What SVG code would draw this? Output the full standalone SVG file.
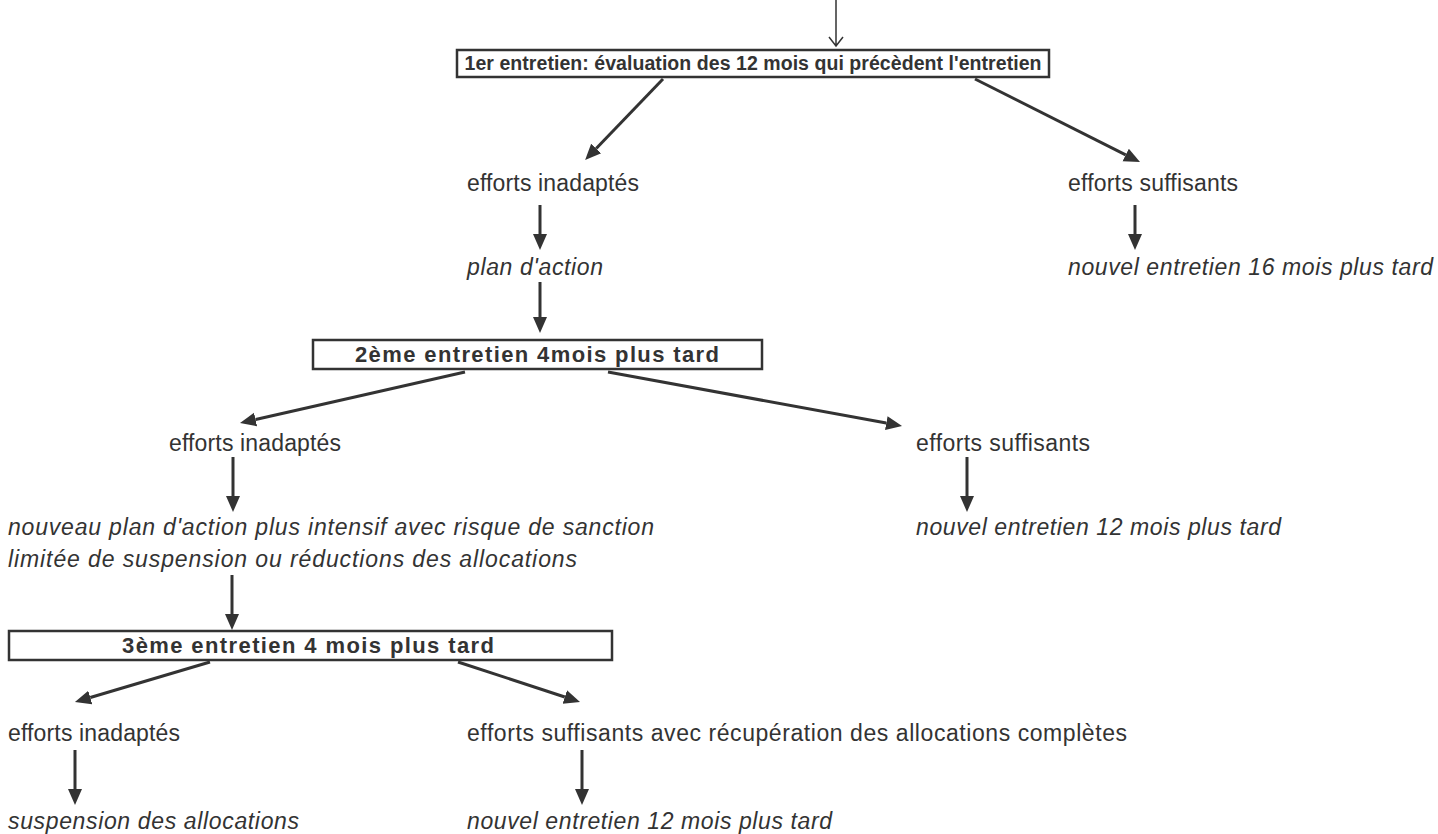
<svg xmlns="http://www.w3.org/2000/svg" width="1438" height="834" viewBox="0 0 1438 834">
<style>
.bx{fill:#fff;stroke:#333;stroke-width:2.5}
.bt{font-family:"Liberation Sans",Arial,sans-serif;font-weight:bold;font-size:22px;fill:#333;text-anchor:middle}
.b1{font-size:19.5px}
.t{font-family:"Liberation Sans",Arial,sans-serif;font-size:23px;fill:#333}
.i{font-style:italic}
.c line{stroke:#333;stroke-width:3;marker-end:url(#ah)}
</style>
<defs>
<marker id="ah" markerUnits="userSpaceOnUse" viewBox="0 -8 16 16" refX="0" refY="0" markerWidth="16" markerHeight="16" orient="auto"><path d="M0,-7 L16,0 L0,7 z" fill="#333"/></marker>
</defs>
<g id="connectors" class="c">
<line x1="663" y1="79" x2="596.2" y2="148.5"/>
<line x1="975" y1="79" x2="1125.7" y2="154.9"/>
<line x1="540" y1="205" x2="540" y2="234"/>
<line x1="1135" y1="205" x2="1135" y2="234"/>
<line x1="540" y1="282" x2="540" y2="317"/>
<line x1="465" y1="372" x2="255.6" y2="419.5"/>
<line x1="608" y1="372" x2="886.3" y2="423.1"/>
<line x1="233" y1="457" x2="233" y2="496"/>
<line x1="967" y1="457" x2="967" y2="496"/>
<line x1="232" y1="575" x2="232" y2="614"/>
<line x1="210" y1="662" x2="90.3" y2="697.5"/>
<line x1="458" y1="662" x2="564.8" y2="697"/>
<line x1="75" y1="750" x2="75" y2="789"/>
<line x1="582" y1="750" x2="582" y2="789"/>
<path d="M836,0 V46 M829,37 L836,46 L843,37" fill="none" stroke="#333" stroke-width="1.5" style="marker-end:none"/>
</g>
<g id="box1"><rect class="bx" x="457" y="50" width="592" height="27"/><text class="bt b1" x="753" y="70" textLength="577" lengthAdjust="spacing">1er entretien: évaluation des 12 mois qui précèdent l'entretien</text></g>
<g id="n-inadaptes1"><text class="t" x="467" y="191" textLength="172" lengthAdjust="spacing">efforts inadaptés</text></g>
<g id="n-suffisants1"><text class="t" x="1068" y="191" textLength="170" lengthAdjust="spacing">efforts suffisants</text></g>
<g id="n-plan"><text class="t i" x="467" y="275" textLength="136" lengthAdjust="spacing">plan d'action</text></g>
<g id="n-nouvel16"><text class="t i" x="1068" y="275" textLength="365" lengthAdjust="spacing">nouvel entretien 16 mois plus tard</text></g>
<g id="box2"><rect class="bx" x="313" y="340" width="449" height="29"/><text class="bt" x="537" y="362" textLength="364" lengthAdjust="spacing">2ème entretien 4mois plus tard</text></g>
<g id="n-inadaptes2"><text class="t" x="169" y="451" textLength="172" lengthAdjust="spacing">efforts inadaptés</text></g>
<g id="n-suffisants2"><text class="t" x="916" y="451" textLength="174" lengthAdjust="spacing">efforts suffisants</text></g>
<g id="n-nouveauplan"><text class="t i" x="8" y="535" textLength="646" lengthAdjust="spacing">nouveau plan d'action plus intensif avec risque de sanction</text><text class="t i" x="8" y="567" textLength="569" lengthAdjust="spacing">limitée de suspension ou réductions des allocations</text></g>
<g id="n-nouvel12a"><text class="t i" x="916" y="535" textLength="365" lengthAdjust="spacing">nouvel entretien 12 mois plus tard</text></g>
<g id="box3"><rect class="bx" x="9" y="631" width="603" height="29"/><text class="bt" x="308" y="653" textLength="372" lengthAdjust="spacing">3ème entretien 4 mois plus tard</text></g>
<g id="n-inadaptes3"><text class="t" x="8" y="741" textLength="172" lengthAdjust="spacing">efforts inadaptés</text></g>
<g id="n-suffisants3"><text class="t" x="467" y="741" textLength="660" lengthAdjust="spacing">efforts suffisants avec récupération des allocations complètes</text></g>
<g id="n-suspension"><text class="t i" x="8" y="829" textLength="291" lengthAdjust="spacing">suspension des allocations</text></g>
<g id="n-nouvel12b"><text class="t i" x="467" y="829" textLength="365" lengthAdjust="spacing">nouvel entretien 12 mois plus tard</text></g>
</svg>
